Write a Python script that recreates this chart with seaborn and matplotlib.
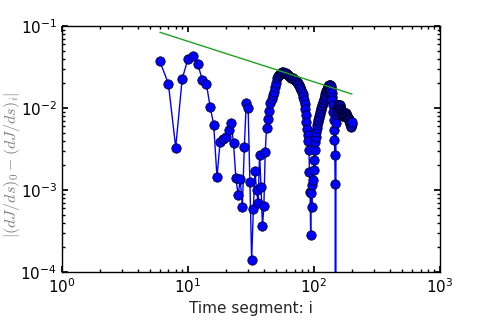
import numpy as np
import pandas as pd
import matplotlib
matplotlib.use("Agg")
import matplotlib.pyplot as plt
import seaborn as sns

# time segment index and error values
segments = list(range(6, 201))
err_sparse = [
    0.037, 0.0198, 0.0033, 0.0226, 0.0396, 0.0427, 0.0344, 0.0218, 0.0198, 0.0104,   # 6-15
    0.0063, 0.00144, 0.0039, 0.0042, 0.0045, 0.0054, 0.0065, 0.0037, 0.0014, 0.00087,  # 16-25
    0.00135, 0.00062, 0.0034, 0.0116, 0.0099, 0.00126, 0.00014, 0.00058, 0.00172, 0.0010,  # 26-35
    0.00069, 0.0027, 0.00108, 0.00036, 0.00064, 0.0029, 0.0057, 0.0073, 0.0093,  # 36-44
]
err_dense = [
    0.0115, 0.0128, 0.0144, 0.0158, 0.0182, 0.0202, 0.0232, 0.0246, 0.0253, 0.026,   # 45-54
    0.0268, 0.0272, 0.0272, 0.0268, 0.0268, 0.0265, 0.026, 0.0253, 0.0246, 0.0239,   # 55-64
    0.0239, 0.0235, 0.0232, 0.023, 0.0226, 0.0222, 0.0219, 0.0213, 0.0207, 0.0202,   # 65-74
    0.0196, 0.0191, 0.018, 0.0176, 0.0166, 0.0157, 0.0148, 0.0136, 0.0125, 0.0112,   # 75-84
    0.0097, 0.0082, 0.0068, 0.0056, 0.0047, 0.004, 0.0031, 0.00167, 0.00095, 0.00028,  # 85-94
    0.00092, 0.00062, 0.00115, 0.00133, 0.00176, 0.0023, 0.0031, 0.0039, 0.0045, 0.0051,  # 95-104
    0.0057, 0.0062, 0.0068, 0.0071, 0.0075, 0.008, 0.0084, 0.0089, 0.0095, 0.01,     # 105-114
    0.0106, 0.011, 0.0115, 0.012, 0.0125, 0.013, 0.0136, 0.0142, 0.0148, 0.0155,     # 115-124
    0.0161, 0.0166, 0.0171, 0.0176, 0.018, 0.0184, 0.0186, 0.0191, 0.0191, 0.0191,   # 125-134
    0.0186, 0.0178, 0.0166, 0.0153, 0.0136, 0.0125, 0.0109, 0.0089, 0.0071, 0.0054,  # 135-144
    0.0041, 0.0027, 0.0012, 0.0, 0.0065, 0.0085, 0.0089, 0.0095, 0.0099, 0.0103,     # 145-154
    0.0106, 0.0108, 0.0109, 0.0109, 0.0109, 0.0108, 0.0105, 0.01, 0.0097, 0.0095,    # 155-164
    0.0092, 0.0089, 0.0087, 0.0084, 0.0082, 0.0081, 0.008, 0.008, 0.0082, 0.0083,    # 165-174
    0.0084, 0.0086, 0.0086, 0.0086, 0.0084, 0.0082, 0.0081, 0.008, 0.0079, 0.0078,   # 175-184
    0.0076, 0.0075, 0.0074, 0.0073, 0.0072, 0.0071, 0.0069, 0.0068, 0.0066, 0.0064,  # 185-194
    0.0062, 0.006, 0.0058, 0.006, 0.0064, 0.0068,                                     # 195-200
]
errors = err_sparse + err_dense

# reference slope line end points
ref_x = [6, 200]
ref_y = [0.084, 0.0148]

sns.set_theme(style="ticks")
plt.rcParams.update({
    "font.family": ["DejaVu Sans"],
    "xtick.direction": "in",
    "ytick.direction": "in",
    "xtick.top": True,
    "ytick.right": True,
    "xtick.major.size": 4,
    "ytick.major.size": 4,
    "xtick.minor.size": 2,
    "ytick.minor.size": 2,
    "axes.linewidth": 1.0,
    "axes.edgecolor": "black",
})

df = pd.DataFrame({"segment": segments, "error": errors})

fig = plt.figure(figsize=(4.79, 3.22), dpi=100)
ax = fig.add_axes([0.129, 0.155, 0.790, 0.764])

sns.lineplot(data=df, x="segment", y="error", ax=ax, color="#0000ff",
             marker="o", markersize=6.8, markeredgecolor="black",
             markeredgewidth=0.5, linewidth=1.0, estimator=None, sort=False)
sns.lineplot(x=ref_x, y=ref_y, ax=ax, color="#22a022", linewidth=1.0,
             estimator=None, sort=False)

ax.set_xscale("log")
ax.set_yscale("log")
ax.set_xlim(1, 1000)
ax.set_ylim(1e-4, 1e-1)
ax.tick_params(which="both", labelsize=11, colors="black")
ax.set_xlabel("Time segment: i", fontsize=11)
ylab = ax.set_ylabel(r"$\left|(dJ/ds)_0-(dJ/ds)_i\right|$", fontsize=11.5,
                     color="0.5")
ylab.set_math_fontfamily("cm")
ax.yaxis.set_label_coords(-0.106, 0.435)

fig.savefig("out.png", dpi=100)
